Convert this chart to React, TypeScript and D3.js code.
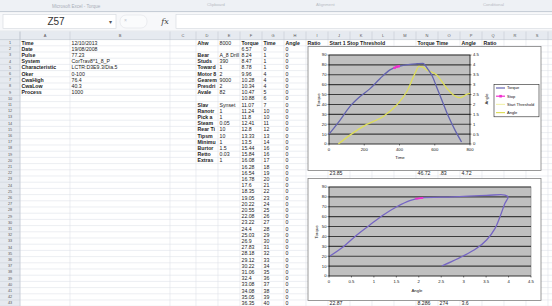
import React from 'react';
import * as d3 from 'd3';

// ---- sheet contents ----
const colLetters = ['A', 'B', 'C', 'D', 'E', 'F', 'G', 'H', 'I', 'J', 'K', 'L', 'M', 'N', 'O', 'P', 'Q', 'R', 'S'];
const infoLabels = ['Time', 'Date', 'Pulse', 'System', 'Characteristic', 'Oker', 'CwaHigh', 'CwaLow', 'Process'];
const infoValues = ['12/10/2013', '19/08/2008', '77.23', 'CorTrav8*1_8_P', 'LCTR:D3E9.3/Dia.5', '0-100', '76.4', '40.3', '1000'];
const paramLabels = ['Ahw', '', 'Bear', 'Studs', 'Toward', 'Motor 8', 'Gearem', 'Presdri', 'Avale', '', 'Slav', 'Ranotr', 'Pick a', 'Steam', 'Rear Ti', 'Tipsm', 'Minimu', 'Burtor', 'Retto', 'Extras'];
const paramValues = ['8000', '', 'A_8 Drill', '390', '1', '2', '9000', '2', '82', '', 'Synset', '1', '1', '0.05', '10', '10', '1', '1.5', '0.03', '1'];
const headerCells = [['F', 'Torque'], ['G', 'Time'], ['H', 'Angle'], ['I', 'Ratio'], ['J', 'Start 1 Stop Threshold'], ['N', 'Torque Time'], ['P', 'Angle'], ['Q', 'Ratio']];
const torqueCol = ['6.57', '8.24', '8.47', '8.78', '9.96', '10.28', '10.34', '10.47', '10.88', '11.07', '11.24', '11.8', '12.41', '12.8', '13.33', '13.5', '15.44', '15.84', '16.08', '16.28', '16.54', '16.78', '17.6', '18.35', '19.05', '20.22', '20.55', '22.08', '23.22', '24.4', '25.03', '26.9', '27.83', '28.18', '29.12', '30.22', '31.06', '32.4', '33.08', '34.08', '35.05', '36.35'];
const timeCol = ['0', '1', '1', '1', '4', '4', '4', '5', '6', '7', '10', '10', '11', '12', '13', '14', '16', '16', '17', '18', '19', '20', '21', '22', '23', '24', '25', '26', '27', '28', '29', '30', '31', '32', '33', '34', '35', '36', '37', '38', '39', '40'];
const angleCol = ['0', '0', '0', '0', '0', '0', '0', '0', '0', '0', '0', '0', '0', '0', '0', '0', '0', '0', '0', '0', '0', '0', '0', '0', '0', '0', '0', '0', '0', '0', '0', '0', '0', '0', '0', '0', '0', '0', '0', '0', '0', '0'];
const summaryCols = ['J', 'N', 'O', 'P'];
const summaryTop = ['23.85', '46.72', '.83', '4.72'];
const summaryBottom = ['22.87', '8.286', '274', '3.6'];

// ---- chart 1: torque & angle over time ----
const timeTorque: [number, number][] = [
  [0, 10], [62, 24], [119, 38], [176, 48], [233, 56], [289, 66], [346, 75], [384, 78], [420, 79.5],
  [460, 80.6], [500, 81.2], [533, 81.6], [560, 76], [585, 69], [610, 58], [630, 49], [650, 40],
  [680, 27], [715, 14], [752, 2],
];
const timeAngle: [number, number][] = [
  [53, 0], [119, 0.45], [214, 0.99], [306, 1.38], [384, 1.97], [441, 2.64], [488, 3.57], [510, 3.92],
  [530, 3.9], [554, 3.74], [611, 3.49], [668, 2.82], [706, 2.48], [743, 2.34], [781, 2.51], [800, 2.56],
];
const timeStop: [number, number][] = [[372, 77], [384, 78], [396, 78.6]];
const timeTicks = [0, 200, 400, 600, 800];
const torqueTicks = [0, 10, 20, 30, 40, 50, 60, 70, 80, 90];
const angleTicks = [0, 0.5, 1, 1.5, 2, 2.5, 3, 3.5, 4, 4.5];
const legendNames = ['Torque', 'Stop', 'Start Threshold', 'Angle'];

// ---- chart 2: torque over angle ----
const angleTorque: [number, number][] = [
  [0.02, 20.2], [0.32, 29.6], [0.62, 41.5], [0.91, 51.6], [1.21, 61.7], [1.51, 70], [1.8, 76.2],
  [2.03, 78.8], [2.77, 80], [3.51, 81.5], [3.92, 81.9], [3.99, 80], [3.92, 73.5], [3.81, 60],
  [3.7, 48.2], [3.51, 36.4], [3.29, 28], [2.99, 20.2], [2.73, 14.5], [2.51, 10.1],
];
const angleStop: [number, number][] = [[1.92, 78.2], [2.0, 78.6], [2.1, 79]];

const FONT = "'Liberation Sans', Arial, sans-serif";
const colEdges = [20, 70, 170, 196, 218, 240, 262, 284, 306, 328, 350, 372, 394, 416, 438, 460, 482, 504, 526, 548];
const ROW_TOP = 39.6;
const ROW_H = 6.2;
const N_ROWS = 43;
const rowY = (r: number) => ROW_TOP + (r - 1) * ROW_H;
const colX = (c: string) => colEdges[colLetters.indexOf(c)];

const TORQUE_C = '#6464b0';
const ANGLE_C = '#dede5a';
const STOP_C = '#f030d0';

function Cell({ c, r, text, bold }: { c: string; r: number; text: string; bold?: boolean }) {
  return (
    <text x={colX(c) + 1.5} y={rowY(r) + ROW_H / 2} dy="0.35em" fontSize={5.2} fontWeight={bold ? 'bold' : 'normal'} fill="#222">
      {text}
    </text>
  );
}

function Sheet() {
  const rows = d3.range(1, N_ROWS + 1);
  return (
    <g fontFamily={FONT}>
      {/* title strip */}
      <rect x={0} y={0} width={552} height={11.5} fill="#eef1f5" />
      <text x={52} y={6} dy="0.35em" fontSize={4.5} fill="#a9aeb8">Microsoft Excel - Torque</text>
      <text x={207} y={5} dy="0.35em" fontSize={4.2} fill="#b8bcc4">Clipboard</text>
      <text x={316} y={5} dy="0.35em" fontSize={4.2} fill="#b8bcc4">Alignment</text>
      <text x={483} y={5} dy="0.35em" fontSize={4.2} fill="#b8bcc4">Conditional</text>
      <line x1={0} x2={552} y1={11.8} y2={11.8} stroke="#b4bcc8" strokeWidth={1} />
      {/* formula bar */}
      <rect x={0} y={12.3} width={552} height={18.7} fill="#f7f8fa" />
      <rect x={3} y={14.5} width={113} height={14} fill="#fff" stroke="#d4d8de" strokeWidth={0.6} />
      <text x={56} y={21.5} dy="0.35em" fontSize={10} textAnchor="middle" fill="#333">Z57</text>
      <text x={110} y={21.8} dy="0.35em" fontSize={6} textAnchor="middle" fill="#555">▾</text>
      <rect x={120} y={15} width={27} height={13} rx={6} fill="#fafbfc" stroke="#e0e3e8" strokeWidth={0.6} />
      <text x={124} y={20} dy="0.35em" fontSize={5} fill="#c0c4cc">×</text>
      <text x={165} y={21.5} dy="0.35em" fontSize={8} fontStyle="italic" fontFamily="'DejaVu Serif', serif" textAnchor="middle" fill="#444">fx</text>
      <rect x={176} y={14.5} width={380} height={14} fill="#fff" stroke="#d4d8de" strokeWidth={0.6} />
      <line x1={0} x2={552} y1={31.3} y2={31.3} stroke="#c4cad3" strokeWidth={0.8} />
      {/* grid */}
      <rect x={0} y={31.6} width={552} height={306} fill="#fff" />
      {rows.map((r) => (
        <line key={`h${r}`} x1={20} x2={552} y1={rowY(r) + ROW_H} y2={rowY(r) + ROW_H} stroke="#dfe3e9" strokeWidth={0.6} />
      ))}
      {colEdges.map((x, i) => (
        <line key={`v${i}`} x1={x} x2={x} y1={31.6} y2={306} stroke="#dfe3e9" strokeWidth={0.6} />
      ))}
      {/* headers */}
      <rect x={0} y={31.6} width={552} height={8} fill="#e6eaf0" />
      <rect x={0} y={31.6} width={20} height={280} fill="#e6eaf0" />
      {colEdges.map((x, i) => (
        <line key={`ch${i}`} x1={x} x2={x} y1={31.6} y2={39.6} stroke="#bcc3cd" strokeWidth={0.5} />
      ))}
      {colLetters.map((c, i) => (
        <text key={c} x={(colEdges[i] + colEdges[i + 1]) / 2} y={35.6} dy="0.35em" fontSize={4} textAnchor="middle" fill="#555">{c}</text>
      ))}
      {rows.map((r) => (
        <g key={`rh${r}`}>
          <line x1={0} x2={20} y1={rowY(r) + ROW_H} y2={rowY(r) + ROW_H} stroke="#c6ccd5" strokeWidth={0.5} />
          <text x={10} y={rowY(r) + ROW_H / 2} dy="0.35em" fontSize={3.8} textAnchor="middle" fill="#555">{r}</text>
        </g>
      ))}
      <line x1={0} x2={552} y1={39.6} y2={39.6} stroke="#bcc3cd" strokeWidth={0.6} />
      <line x1={20} x2={20} y1={31.6} y2={306} stroke="#bcc3cd" strokeWidth={0.6} />
      {/* cells */}
      {infoLabels.map((t, i) => <Cell key={`a${i}`} c="A" r={i + 1} text={t} bold />)}
      {infoValues.map((t, i) => <Cell key={`b${i}`} c="B" r={i + 1} text={t} />)}
      {paramLabels.map((t, i) => <Cell key={`d${i}`} c="D" r={i + 1} text={t} bold />)}
      {paramValues.map((t, i) => <Cell key={`e${i}`} c="E" r={i + 1} text={t} />)}
      {headerCells.map(([c, t]) => <Cell key={`hd${c}`} c={c} r={1} text={t} bold />)}
      {torqueCol.map((t, i) => <Cell key={`f${i}`} c="F" r={i + 2} text={t} />)}
      {timeCol.map((t, i) => <Cell key={`g${i}`} c="G" r={i + 2} text={t} />)}
      {angleCol.map((t, i) => <Cell key={`hh${i}`} c="H" r={i + 2} text={t} />)}
      {summaryTop.map((t, i) => <Cell key={`st${i}`} c={summaryCols[i]} r={22} text={t} />)}
      {summaryBottom.map((t, i) => <Cell key={`sb${i}`} c={summaryCols[i]} r={43} text={t} />)}
    </g>
  );
}

type Scale = d3.ScaleLinear<number, number>;

function PlotBase({ x, y, xTicks, yTicks }: { x: Scale; y: Scale; xTicks: number[]; yTicks: number[] }) {
  const [x0, x1] = x.range();
  const [y0, y1] = y.range();
  return (
    <g>
      <rect x={x0} y={y1} width={x1 - x0} height={y0 - y1} fill="#c0c0c0" stroke="#808080" strokeWidth={0.6} />
      {yTicks.slice(1).map((t) => (
        <line key={`g${t}`} x1={x0} x2={x1} y1={y(t)} y2={y(t)} stroke="#3c3c3c" strokeWidth={1.1} />
      ))}
      <line x1={x0} x2={x0} y1={y1} y2={y0} stroke="#000" strokeWidth={0.6} />
      <line x1={x0} x2={x1} y1={y0} y2={y0} stroke="#000" strokeWidth={0.6} />
      {yTicks.map((t) => (
        <g key={`yt${t}`}>
          <line x1={x0 - 1.5} x2={x0} y1={y(t)} y2={y(t)} stroke="#000" strokeWidth={0.5} />
          <text x={x0 - 2.5} y={y(t)} dy="0.35em" fontSize={4.2} textAnchor="end" fill="#111">{t}</text>
        </g>
      ))}
      {xTicks.map((t) => (
        <g key={`xt${t}`}>
          <line x1={x(t)} x2={x(t)} y1={y0} y2={y0 + 1.5} stroke="#000" strokeWidth={0.5} />
          <text x={x(t)} y={y0 + 5.5} dy="0.35em" fontSize={4.2} textAnchor="middle" fill="#111">{t}</text>
        </g>
      ))}
    </g>
  );
}

function TimeChart() {
  const x = d3.scaleLinear().domain([0, 800]).range([329, 470]);
  const yL = d3.scaleLinear().domain([0, 90]).range([144, 55]);
  const yR = d3.scaleLinear().domain([0, 4.5]).range([144, 55]);
  const torqueLine = d3.line<[number, number]>().x((d) => x(d[0])).y((d) => yL(d[1])).curve(d3.curveMonotoneX);
  const angleLine = d3.line<[number, number]>().x((d) => x(d[0])).y((d) => yR(d[1])).curve(d3.curveMonotoneX);
  const legendColors = [TORQUE_C, STOP_C, '#f2f2b0', ANGLE_C];
  return (
    <g fontFamily={FONT}>
      <rect x={308} y={46.5} width={233} height={124} fill="#fff" stroke="#808080" strokeWidth={0.8} />
      <PlotBase x={x} y={yL} xTicks={timeTicks} yTicks={torqueTicks} />
      <line x1={470} x2={470} y1={55} y2={144} stroke="#000" strokeWidth={0.6} />
      {angleTicks.map((t) => (
        <g key={`r${t}`}>
          <line x1={470} x2={471.5} y1={yR(t)} y2={yR(t)} stroke="#000" strokeWidth={0.5} />
          <text x={473} y={yR(t)} dy="0.35em" fontSize={4.2} fill="#111">{t}</text>
        </g>
      ))}
      <path d={angleLine(timeAngle) ?? ''} fill="none" stroke={ANGLE_C} strokeWidth={1.3} />
      <path d={torqueLine(timeTorque) ?? ''} fill="none" stroke={TORQUE_C} strokeWidth={1.3} />
      <path d={torqueLine(timeStop) ?? ''} fill="none" stroke={STOP_C} strokeWidth={1.6} />
      {timeStop.map((d, i) => (
        <rect key={i} x={x(d[0]) - 1.2} y={yL(d[1]) - 1.2} width={2.4} height={2.4} fill={STOP_C} />
      ))}
      <text transform="translate(318,100) rotate(-90)" fontSize={4.3} textAnchor="middle" dy="0.35em" fill="#111">Torque</text>
      <text transform="translate(486.5,99) rotate(-90)" fontSize={4.3} textAnchor="middle" dy="0.35em" fill="#111">Angle</text>
      <text x={400} y={157.5} fontSize={4.3} textAnchor="middle" dy="0.35em" fill="#111">Time</text>
      <rect x={494} y={84.3} width={45} height={32.5} fill="#fff" stroke="#222" strokeWidth={0.6} />
      {legendNames.map((n, i) => {
        const ly = 88 + i * 8.2;
        return (
          <g key={n}>
            <line x1={496} x2={505} y1={ly} y2={ly} stroke={legendColors[i]} strokeWidth={1.2} />
            {i === 1 && <rect x={499.3} y={ly - 1.3} width={2.6} height={2.6} fill={STOP_C} />}
            <text x={507} y={ly} dy="0.35em" fontSize={4} fill="#111">{n}</text>
          </g>
        );
      })}
    </g>
  );
}

function AngleChart() {
  const x = d3.scaleLinear().domain([0, 4.5]).range([329, 531]);
  const y = d3.scaleLinear().domain([0, 90]).range([276, 187]);
  const line = d3.line<[number, number]>().x((d) => x(d[0])).y((d) => y(d[1])).curve(d3.curveCatmullRom.alpha(0.5));
  return (
    <g fontFamily={FONT}>
      <rect x={308} y={178.5} width={233} height={122} fill="#fff" stroke="#808080" strokeWidth={0.8} />
      <PlotBase x={x} y={y} xTicks={angleTicks} yTicks={torqueTicks} />
      <path d={line(angleTorque) ?? ''} fill="none" stroke="#7666c4" strokeWidth={1.3} />
      <path d={line(angleStop) ?? ''} fill="none" stroke={STOP_C} strokeWidth={1.8} />
      <text transform="translate(316,232) rotate(-90)" fontSize={4.3} textAnchor="middle" dy="0.35em" fill="#111">Torque</text>
      <text x={417} y={290} fontSize={4.3} textAnchor="middle" dy="0.35em" fill="#111">Angle</text>
    </g>
  );
}

export default function App() {
  return (
    <svg width={552} height={306} style={{ position: 'absolute', left: 0, top: 0, background: '#fff' }}>
      <Sheet />
      <TimeChart />
      <AngleChart />
    </svg>
  );
}
